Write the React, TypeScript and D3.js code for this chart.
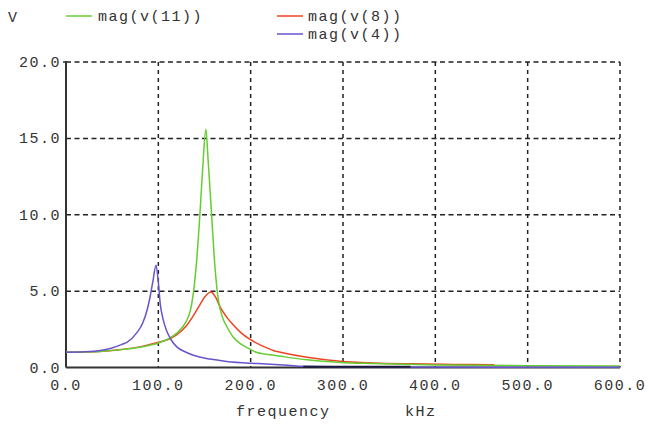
import React from "react";
import * as d3 from "d3";

const xTicks = [0, 100, 200, 300, 400, 500, 600];
const yTicks = [0, 5, 10, 15, 20];

const greenFreq = [0, 20, 40, 60, 80, 100, 110, 120, 130, 135, 138, 141.5, 145, 148, 151.5, 154, 157.7, 161.3, 164.8, 170, 174, 181, 188, 196, 206, 213, 225, 261, 297, 333, 400, 500, 600];
const greenMag = [1.0, 1.02, 1.07, 1.17, 1.33, 1.6, 1.85, 2.25, 3.0, 3.8, 4.9, 7.0, 10.0, 13.0, 15.6, 13.5, 10.0, 6.6, 4.5, 3.2, 2.7, 2.0, 1.6, 1.3, 1.0, 0.9, 0.8, 0.5, 0.33, 0.26, 0.17, 0.12, 0.1];

const redFreq = [0, 20, 40, 60, 80, 100, 113, 120, 130, 138, 145, 150, 157, 162, 167, 174, 181, 190, 199, 213, 225, 232, 261, 297, 333, 373, 420, 464];
const redMag = [1.0, 1.02, 1.07, 1.18, 1.35, 1.65, 1.9, 2.15, 2.7, 3.4, 4.1, 4.6, 4.95, 4.6, 3.95, 3.3, 2.8, 2.25, 1.85, 1.4, 1.1, 1.0, 0.67, 0.41, 0.3, 0.24, 0.2, 0.18];

const purpleFreq = [0, 20, 30, 48, 60, 66, 77, 83, 88, 91, 94, 97.5, 100, 102, 105, 109, 114, 120, 130, 138, 156, 174, 200, 213, 240, 257, 300, 373, 450, 600];
const purpleMag = [1.0, 1.03, 1.07, 1.25, 1.5, 1.65, 2.3, 2.9, 3.8, 4.6, 5.6, 6.7, 5.6, 4.2, 3.2, 2.4, 1.8, 1.35, 1.0, 0.8, 0.55, 0.4, 0.28, 0.24, 0.15, 0.08, 0.05, 0.03, 0.02, 0.02];

const darkFreq = [257, 373];
const darkMag = [0.05, 0.05];

const legendLabels = ["mag(v(11))", "mag(v(8))", "mag(v(4))"];
const legendColors = ["#66cc33", "#ee4422", "#6655cc"];

const W = 649;
const H = 425;
const left = 66;
const right = 620;
const top = 62;
const bottom = 367.5;

const font = "'Liberation Mono', 'DejaVu Sans Mono', monospace";

export default function App() {
  const x = d3.scaleLinear().domain([0, 600]).range([left, right]);
  const y = d3.scaleLinear().domain([0, 20]).range([bottom, top]);

  const mk = (fs: number[], vs: number[]) =>
    d3
      .line<number>()
      .x((_, i) => x(fs[i]))
      .y((v) => y(v))
      .curve(d3.curveMonotoneX)(vs) || "";

  const textStyle = {
    fontFamily: font,
    fontSize: 15,
    letterSpacing: 1.5,
    fill: "#333",
  } as React.CSSProperties;

  return (
    <svg
      width={W}
      height={H}
      style={{ position: "absolute", left: 0, top: 0, background: "#fff" }}
    >
      <rect x={0} y={0} width={W} height={H} fill="#fff" />
      {/* grid */}
      {yTicks.filter((t) => t > 0).map((t) => (
        <line
          key={"gy" + t}
          x1={left}
          x2={right}
          y1={y(t)}
          y2={y(t)}
          stroke="#222"
          strokeWidth={1.5}
          strokeDasharray="5,3.5"
        />
      ))}
      {xTicks.filter((t) => t > 0).map((t) => (
        <line
          key={"gx" + t}
          x1={x(t)}
          x2={x(t)}
          y1={top}
          y2={bottom}
          stroke="#222"
          strokeWidth={1.5}
          strokeDasharray="4,4"
        />
      ))}
      {/* axes */}
      <line x1={left} x2={left} y1={top - 1} y2={bottom} stroke="#333" strokeWidth={2} />
      <line x1={left} x2={right} y1={bottom} y2={bottom} stroke="#333" strokeWidth={2} />
      <line x1={left - 3} x2={left} y1={top} y2={top} stroke="#333" strokeWidth={1.5} />

      {/* curves */}
      <path d={mk(redFreq, redMag)} fill="none" stroke={legendColors[1]} strokeWidth={1.5} />
      <path d={mk(greenFreq, greenMag)} fill="none" stroke={legendColors[0]} strokeWidth={1.5} />
      <path d={mk(purpleFreq, purpleMag)} fill="none" stroke={legendColors[2]} strokeWidth={1.5} />
      <path d={mk(darkFreq, darkMag)} fill="none" stroke="#1a1a3a" strokeWidth={2} />

      {/* y tick labels */}
      {yTicks.map((t) => (
        <text
          key={"yl" + t}
          x={left - 5}
          y={y(t) + 5}
          textAnchor="end"
          style={textStyle}
        >
          {t.toFixed(1)}
        </text>
      ))}
      {/* x tick labels */}
      {xTicks.map((t) => (
        <text
          key={"xl" + t}
          x={x(t)}
          y={390}
          textAnchor="middle"
          style={textStyle}
        >
          {t.toFixed(1)}
        </text>
      ))}
      {/* axis titles */}
      <text x={8} y={22} style={textStyle}>V</text>
      <text x={236} y={416} style={textStyle}>frequency</text>
      <text x={405} y={416} style={textStyle}>kHz</text>

      {/* legend */}
      <line x1={66} x2={92} y1={16} y2={16} stroke={legendColors[0]} strokeWidth={1.5} />
      <text x={98} y={21} style={textStyle}>{legendLabels[0]}</text>
      <line x1={277} x2={303} y1={16} y2={16} stroke={legendColors[1]} strokeWidth={1.5} />
      <text x={308} y={21} style={textStyle}>{legendLabels[1]}</text>
      <line x1={277} x2={303} y1={34} y2={34} stroke={legendColors[2]} strokeWidth={1.5} />
      <text x={308} y={39} style={textStyle}>{legendLabels[2]}</text>
    </svg>
  );
}
